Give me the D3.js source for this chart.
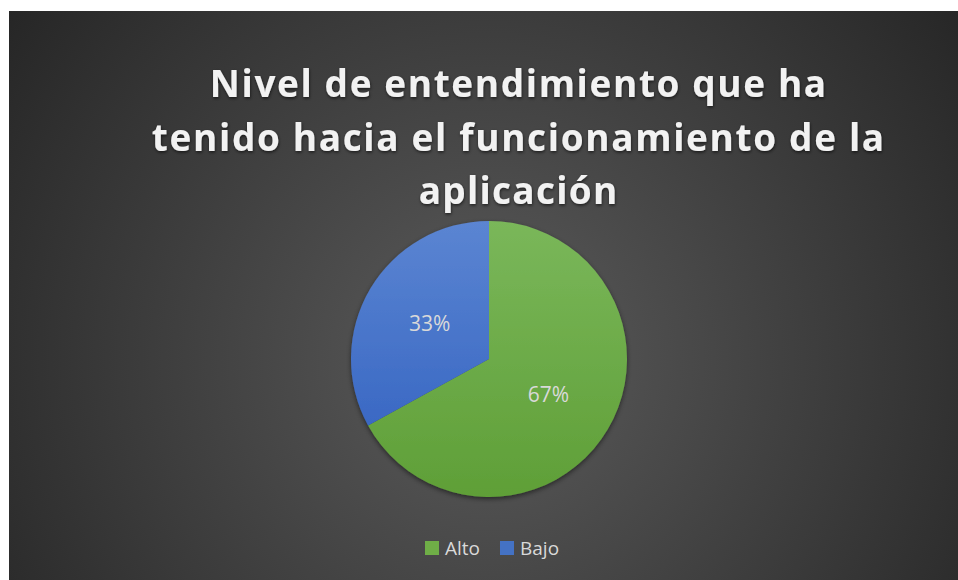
<!DOCTYPE html>
<html>
<head>
<meta charset="utf-8">
<script src="https://cdn.jsdelivr.net/npm/d3@7"></script>
<style>
  html, body { margin: 0; padding: 0; background: #ffffff; }
  svg { display: block; }
</style>
</head>
<body>
<svg id="chart" width="958" height="580"></svg>
<script>
// data
var categories = ['Alto', 'Bajo'];
var values = [67, 33];
var labels = ['67%', '33%'];
var titleLines = ['Nivel de entendimiento que ha', 'tenido hacia el funcionamiento de la', 'aplicación'];

var W = 958, H = 580;
var svg = d3.select('#chart');
var defs = svg.append('defs');

// background gradient
var bg = defs.append('radialGradient').attr('id', 'bgGrad')
  .attr('gradientUnits', 'userSpaceOnUse')
  .attr('cx', 489).attr('cy', 360).attr('r', 640);
bg.append('stop').attr('offset', '0%').attr('stop-color', '#5b5b5b');
bg.append('stop').attr('offset', '100%').attr('stop-color', '#222222');

var cx = 489, cy = 359, R = 138;

// slice gradients (top lighter), coords local to the pie group
var sliceCols = [['#7ab75a', '#5f9f37'], ['#5b85d2', '#2f5fbf']];
sliceCols.forEach(function(c, i) {
  var g = defs.append('linearGradient').attr('id', 'slice' + i)
    .attr('gradientUnits', 'userSpaceOnUse')
    .attr('x1', 0).attr('y1', -R).attr('x2', 0).attr('y2', R);
  g.append('stop').attr('offset', '0%').attr('stop-color', c[0]);
  g.append('stop').attr('offset', '100%').attr('stop-color', c[1]);
});

var sh = defs.append('filter').attr('id', 'pieShadow')
  .attr('x', '-20%').attr('y', '-20%').attr('width', '140%').attr('height', '140%');
sh.append('feDropShadow').attr('dx', 0).attr('dy', 2).attr('stdDeviation', 2.5)
  .attr('flood-color', '#000').attr('flood-opacity', 0.5);

var tsh = defs.append('filter').attr('id', 'txtShadow')
  .attr('x', '-10%').attr('y', '-30%').attr('width', '120%').attr('height', '160%');
tsh.append('feDropShadow').attr('dx', 0.5).attr('dy', 1.5).attr('stdDeviation', 1.5)
  .attr('flood-color', '#000').attr('flood-opacity', 0.6);

svg.append('rect')
  .attr('x', 9).attr('y', 11).attr('width', 949).attr('height', 580)
  .attr('fill', 'url(#bgGrad)');

// title
var titleX = 518, titleY = [97, 151, 204];
var titleW = [618, 734, 200];
var title = svg.append('g').attr('filter', 'url(#txtShadow)');
titleLines.forEach(function(t, i) {
  var txt = title.append('text')
    .attr('x', titleX).attr('y', titleY[i])
    .attr('text-anchor', 'middle')
    .style('font-family', '"Open Sans", sans-serif')
    .style('font-weight', 700)
    .style('font-size', '37px')
    .attr('fill', '#f2f2f2')
    .text(t);
  var w = txt.node().getComputedTextLength();
  var ls = (titleW[i] - w) / t.length;
  txt.style('letter-spacing', ls + 'px')
     .attr('x', titleX + ls / 2);
});

// pie
var color = d3.scaleOrdinal().domain(categories).range(['url(#slice0)', 'url(#slice1)']);
var pie = d3.pie().sort(null).value(function(d) { return d.v; });
var arc = d3.arc().innerRadius(0).outerRadius(R);
var data = categories.map(function(c, i) { return { c: c, v: values[i], l: labels[i] }; });

var g = svg.append('g').attr('transform', 'translate(' + cx + ',' + cy + ')');
g.append('g').attr('filter', 'url(#pieShadow)')
  .selectAll('path')
  .data(pie(data))
  .enter().append('path')
    .attr('d', arc)
    .attr('fill', function(d) { return color(d.data.c); });

g.selectAll('text.lbl')
  .data(pie(data))
  .enter().append('text')
    .attr('class', 'lbl')
    .attr('transform', function(d) { return 'translate(' + arc.centroid(d) + ')'; })
    .attr('dy', '0.36em')
    .attr('text-anchor', 'middle')
    .style('font-family', '"Open Sans", sans-serif')
    .style('font-size', '21px')
    .attr('fill', '#d9d9d9')
    .text(function(d) { return d.data.l; });

// legend
var legX = [425, 500];
var leg = svg.append('g');
categories.forEach(function(c, i) {
  leg.append('rect')
    .attr('x', legX[i]).attr('y', 541).attr('width', 14).attr('height', 14)
    .attr('fill', i === 0 ? '#6fae47' : '#4472c4');
  leg.append('text')
    .attr('x', legX[i] + 20).attr('y', 555)
    .style('font-family', '"Open Sans", sans-serif')
    .style('font-size', '19px')
    .attr('fill', '#d9d9d9')
    .text(c);
});
</script>
</body>
</html>
